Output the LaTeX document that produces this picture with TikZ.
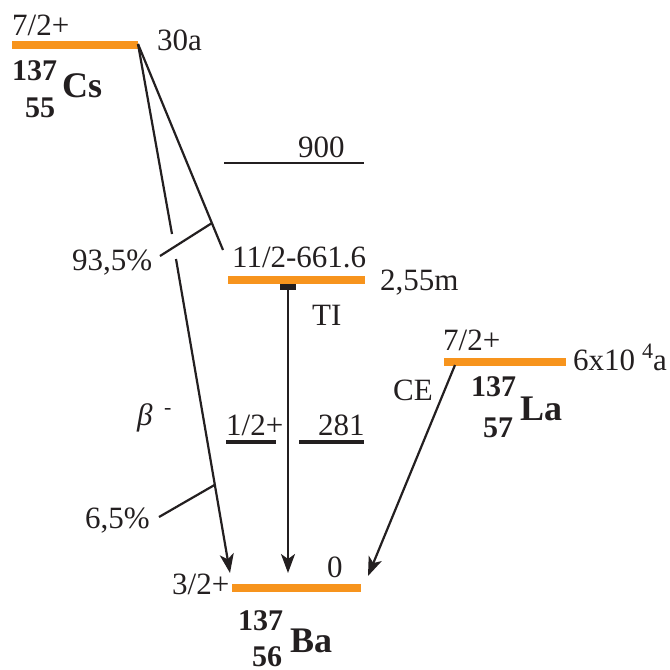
\documentclass[tikz,border=0pt]{standalone}
\usepackage{fontspec}
\setmainfont{Liberation Serif}
\usetikzlibrary{arrows.meta}
\definecolor{lvl}{HTML}{F7941D}
\definecolor{ink}{HTML}{231F20}
\begin{document}
\begin{tikzpicture}[x=1pt,y={(0pt,-1pt)},
  bar/.style={fill=lvl,draw=none,inner sep=0pt,minimum height=8pt},
  txt/.style={anchor=base west,inner sep=0pt,text=ink,font=\fontsize{31}{36}\selectfont},
  nuc/.style={anchor=base west,inner sep=0pt,text=ink,font=\fontsize{30}{36}\selectfont\bfseries},
  sym/.style={anchor=base west,inner sep=0pt,text=ink,font=\fontsize{36}{42}\selectfont\bfseries},
  sml/.style={anchor=base west,inner sep=0pt,text=ink,font=\fontsize{22}{26}\selectfont},
  conn/.style={draw=ink,line width=2.2pt},
  arr/.style={conn,-{Stealth[length=19pt,width=14pt,inset=5pt]}},
  thin/.style={draw=ink,line width=2pt},
  thick/.style={draw=ink,line width=4.5pt}]
\useasboundingbox (0,0) rectangle (670,670);
% levels
\node[bar,minimum width=126pt] (cs) at (75,44.5) {};
\node[bar,minimum width=137pt] (l112) at (296.5,280) {};
\node[bar,minimum width=122pt] (la) at (505,362) {};
\node[bar,minimum width=129pt] (ba) at (296.5,588) {};
% 900 level
\coordinate (n9a) at (224,163);
\coordinate (n9b) at (364,163);
\draw[thin] (n9a) -- (n9b);
% 1/2+ level
\coordinate (h1a) at (226,442);
\coordinate (h1b) at (276,442);
\coordinate (h2a) at (299,442);
\coordinate (h2b) at (364,442);
\draw[thick] (h1a) -- (h1b);
\draw[thick] (h2a) -- (h2b);
% beta decay lines
\coordinate (csR) at (138,44);
\coordinate (gapA) at (172,234);
\coordinate (gapB) at (176,259);
\coordinate (tipA) at (230,573);
\coordinate (end112) at (223,250);
\draw[conn] (csR) -- (gapA);
\draw[arr] (gapB) -- (tipA);
\draw[conn] (csR) -- (end112);
% leaders
\coordinate (ld1a) at (160,256);
\coordinate (ld1b) at (212,223);
\draw[conn] (ld1a) -- (ld1b);
\coordinate (ld2a) at (159,517);
\coordinate (ld2b) at (214.5,485);
\draw[conn] (ld2a) -- (ld2b);
% TI
\node[fill=ink,inner sep=0pt,minimum width=16pt,minimum height=6pt] (tee) at (288,287) {};
\coordinate (tipB) at (288,573);
\draw[arr] (tee.center) -- (tipB);
% CE
\coordinate (ceA) at (455,365);
\coordinate (tipC) at (368,576);
\draw[arr] (ceA) -- (tipC);
% texts Cs
\node[txt] (t1) at (12,35) {7/2+};
\node[txt] (t2) at (157,50) {30a};
\node[nuc] (t3) at (12,80) {137};
\node[nuc] (t4) at (25,117) {55};
\node[sym] (t5) at (62,97) {Cs};
\node[txt] (t6) at (298,157) {900};
\node[txt] (t7) at (72,270) {93,5\%};
\node[txt] (t8) at (232,267) {11/2-661.6};
\node[txt] (t9) at (380,290) {2,55m};
\node[txt] (t10) at (312,325) {TI};
% La
\node[txt] (t11) at (443,350) {7/2+};
\node[txt] (t12) at (573,370) {6x10};
\node[sml] (t13) at (642,358) {4};
\node[txt] (t14) at (653,370) {a};
\node[nuc] (t15) at (471,396) {137};
\node[nuc] (t16) at (483,437) {57};
\node[sym] (t17) at (520,420) {La};
\node[txt] (t18) at (393,400) {CE};
% beta
\node[txt,font=\fontsize{31}{36}\selectfont\itshape] (t19) at (137,425) {β};
\node[sml] (t20) at (164,414) {-};
\node[txt] (t21) at (226,435) {1/2+};
\node[txt] (t22) at (318,435) {281};
\node[txt] (t23) at (85,528) {6,5\%};
% Ba
\node[txt] (t24) at (172,594) {3/2+};
\node[txt] (t25) at (327,577) {0};
\node[nuc] (t26) at (238,630) {137};
\node[nuc] (t27) at (252,666) {56};
\node[sym] (t28) at (290,652) {Ba};
\end{tikzpicture}
\end{document}
